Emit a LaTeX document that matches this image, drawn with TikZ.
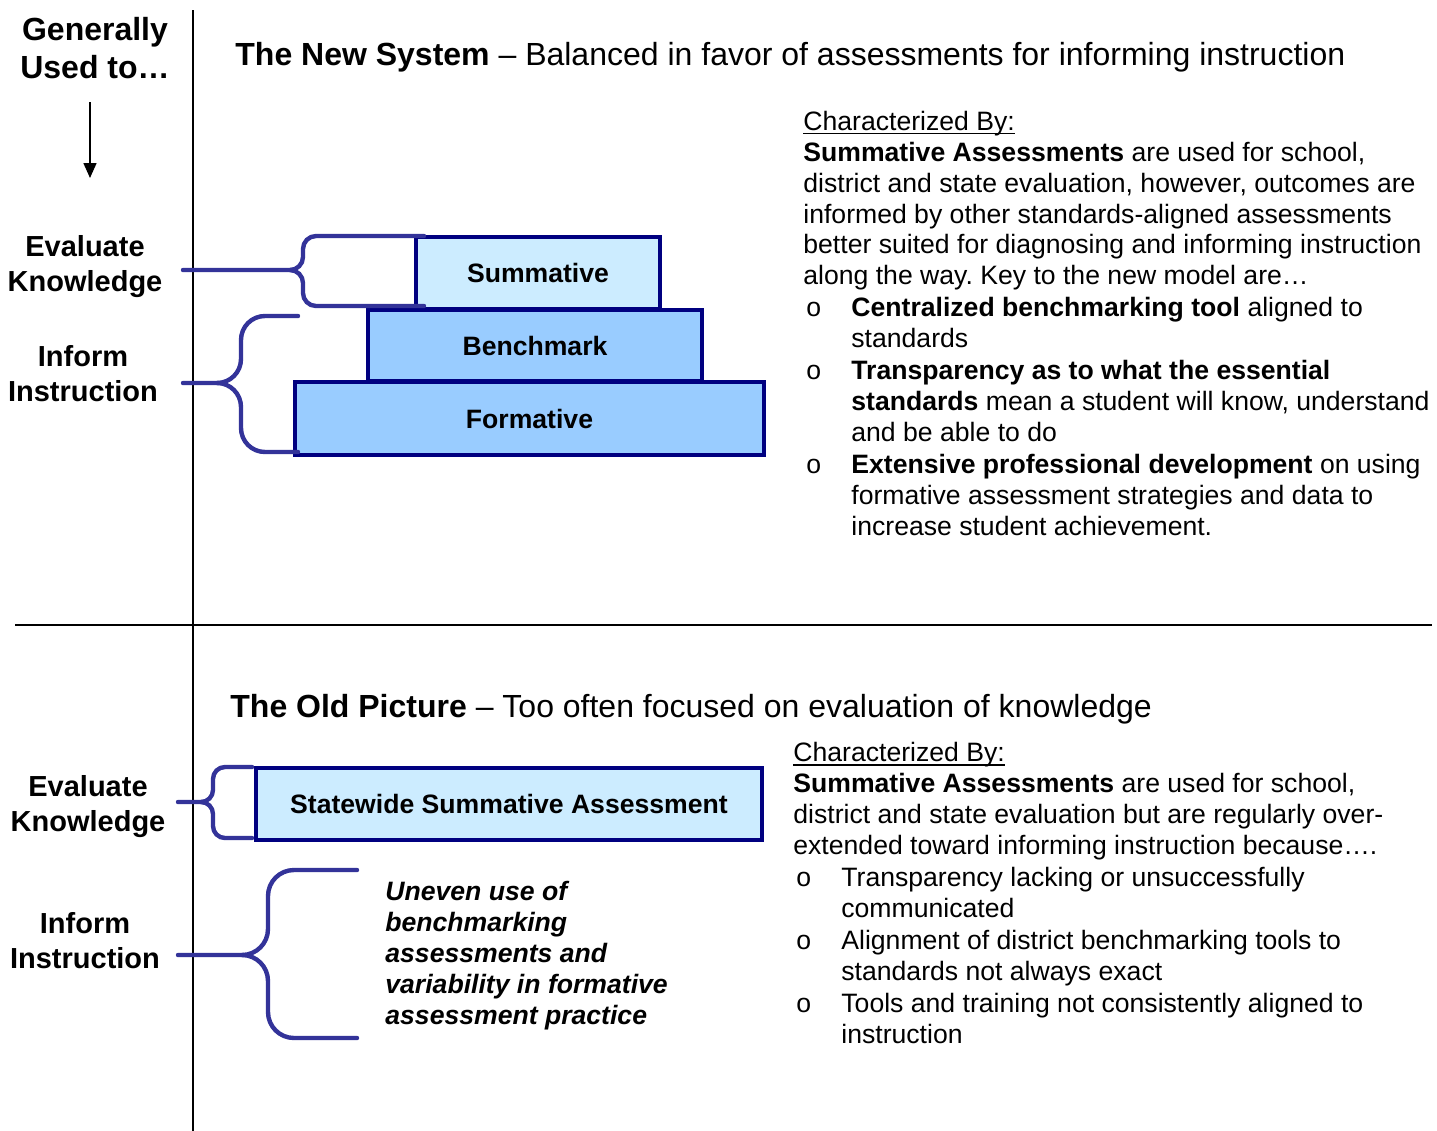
\documentclass[tikz,border=0pt]{standalone}
\usepackage{fontspec}
\setmainfont{Liberation Sans}
\usetikzlibrary{arrows.meta}
\frenchspacing

\definecolor{boxnavy}{HTML}{000080}
\definecolor{paleblue}{HTML}{CCECFF}
\definecolor{skyblue}{HTML}{99CCFF}
\definecolor{bracecol}{HTML}{333399}

% bullet and hanging indent for the lists
\newcommand{\bul}{\makebox[24pt][l]{\hspace{1.5pt}o}}
\newcommand{\ind}{\hspace*{24pt}}
% underline kept close to the baseline
\newcommand{\undr}[1]{\leavevmode\setbox0\hbox{#1}\rlap{\rule[-1.8pt]{\wd0}{0.6pt}}\box0}

% curly bracket: tip x, bar x, arm end x, top y, middle y, bottom y, curl
\newcommand{\sidebrace}[7]{%
  \draw[curly] (#3,#4) -- (#2+#7,#4) to[out=180,in=90] (#2,#4+#7)
    -- (#2,#5-#7) to[out=-90,in=0] (#2-#7,#5) -- (#1,#5);
  \draw[curly] (#2-#7,#5) to[out=0,in=90] (#2,#5+#7)
    -- (#2,#6-#7) to[out=-90,in=180] (#2+#7,#6) -- (#3,#6);}

\tikzset{
  tier/.style={draw=boxnavy, line width=2pt, inner sep=0pt,
    font=\fontsize{13.3}{16}\selectfont\bfseries},
  lbl/.style={align=center, font=\fontsize{14.5}{17.5}\selectfont\bfseries},
  headline/.style={anchor=base west, inner sep=0pt, font=\fontsize{16}{19}\selectfont},
  % multi-line blocks sit on the baseline of their last line
  body/.style={align=left, anchor=base west, inner sep=0pt,
    font=\fontsize{13.3}{15.45}\selectfont},
  curly/.style={draw=bracecol, line width=2.2pt, line cap=round},
}

\begin{document}
\begin{tikzpicture}[x=0.5pt,y=-0.5pt]
  \useasboundingbox (0,0) rectangle (1437,1131);

  % frame lines
  \draw[line width=1pt] (193,10) -- (193,1131);
  \draw[line width=1pt] (15,625) -- (1432,625);

  % left column
  \node[lbl, font=\fontsize{16}{19}\selectfont\bfseries] (usedTo) at (95,48) {Generally\\Used to…};
  \coordinate (arrTop) at (90,102);
  \coordinate (arrBot) at (90,178);
  \draw[line width=0.8pt, -{Triangle[length=7.5pt,width=6.5pt]}] (arrTop) -- (arrBot);

  %% new system
  \node[headline] (newTitle) at (235,65)
    {\textbf{The New System} – Balanced in favor of assessments for informing instruction};

  \node[lbl] (evalNew) at (85,267) {Evaluate\\Knowledge};
  \node[lbl] (informNew) at (83,374) {Inform\\Instruction};

  % stacked tiers
  \node[tier, fill=skyblue, minimum width=234.5pt, minimum height=36.5pt] (formative) at (529.5,418.5) {Formative};
  \node[tier, fill=skyblue, minimum width=167pt, minimum height=35.5pt] (benchmark) at (535,345.5) {Benchmark};
  \node[tier, fill=paleblue, minimum width=122pt, minimum height=36pt] (summative) at (538,273) {Summative};

  \sidebrace{183}{303}{424}{236}{270}{306}{13}
  \sidebrace{183}{241}{298}{316}{383}{452}{24}

  \node[body] (newText) at (803,535) {\undr{Characterized By:}\\
    \textbf{Summative Assessments} are used for school,\\
    district and state evaluation, however, outcomes are\\
    informed by other standards-aligned assessments\\
    better suited for diagnosing and informing instruction\\
    along the way. Key to the new model are…\\[0.5pt]
    \bul\textbf{Centralized benchmarking tool} aligned to\\
    \ind standards\\[0.5pt]
    \bul\textbf{Transparency as to what the essential}\\
    \ind\textbf{standards} mean a student will know, understand\\
    \ind and be able to do\\[0.5pt]
    \bul\textbf{Extensive professional development} on using\\
    \ind formative assessment strategies and data to\\
    \ind increase student achievement.};

  %% old picture
  \node[headline] (oldTitle) at (230,717)
    {\textbf{The Old Picture} – Too often focused on evaluation of knowledge};

  \node[lbl] (evalOld) at (88,807) {Evaluate\\Knowledge};
  \node[lbl] (informOld) at (85,941) {Inform\\Instruction};

  \node[tier, fill=paleblue, minimum width=253pt, minimum height=36pt] (statewide) at (509,804) {Statewide Summative Assessment};

  \sidebrace{178}{213}{252}{767}{802}{838}{12}
  \sidebrace{178}{268}{357}{870}{955}{1038}{26}

  \node[body, font=\fontsize{13.3}{15.4}\selectfont\bfseries\itshape] (uneven) at (385,1024)
    {Uneven use of\\ benchmarking\\ assessments and\\ variability in formative\\ assessment practice};

  \node[body] (oldText) at (793,1043) {\undr{Characterized By:}\\
    \textbf{Summative Assessments} are used for school,\\
    district and state evaluation but are regularly over-\\
    extended toward informing instruction because….\\[0.5pt]
    \bul Transparency lacking or unsuccessfully\\
    \ind communicated\\[0.5pt]
    \bul Alignment of district benchmarking tools to\\
    \ind standards not always exact\\[0.5pt]
    \bul Tools and training not consistently aligned to\\
    \ind instruction};
\end{tikzpicture}
\end{document}
